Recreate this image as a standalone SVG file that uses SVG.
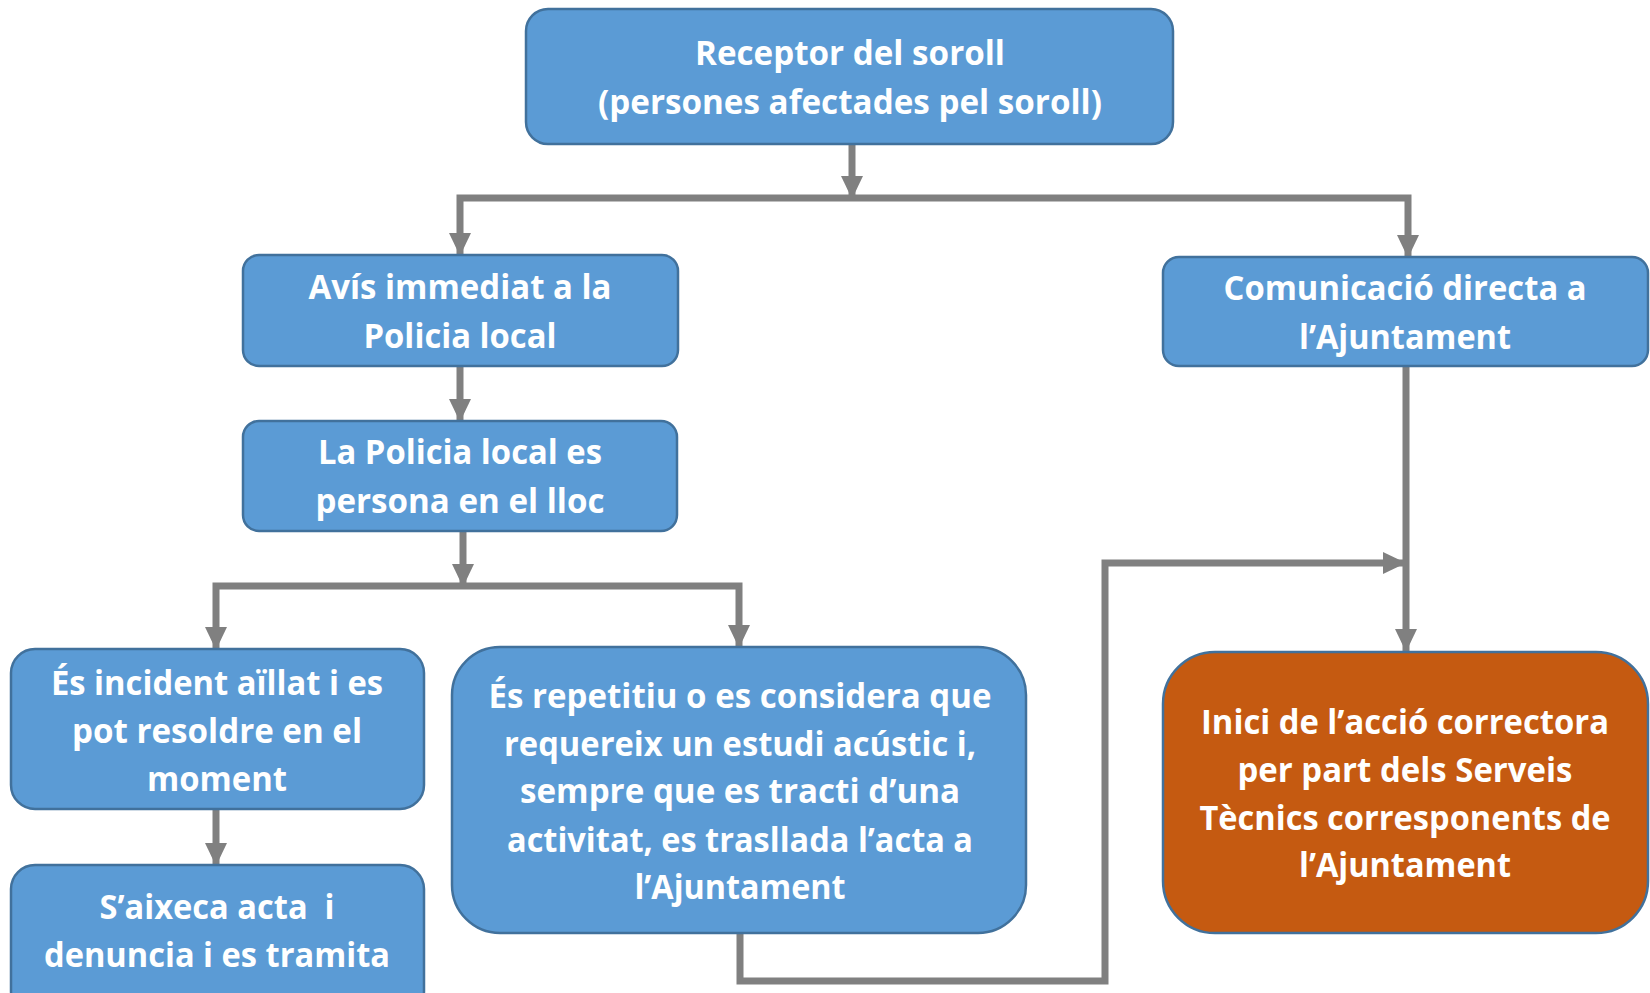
<svg xmlns="http://www.w3.org/2000/svg" width="1650" height="993" viewBox="0 0 1650 993">
<style>
.box{fill:#5B9BD5;stroke:#41719C;stroke-width:2.5}
.org{fill:#C55A11;stroke:#41719C;stroke-width:2.5}
.t{font-family:"Open Sans","Noto Sans","Liberation Sans",sans-serif;font-weight:700;font-size:34px;fill:#FFFFFF;text-anchor:middle}
.c{fill:none;stroke:#808080;stroke-width:7;stroke-linejoin:miter;stroke-linecap:butt}
</style>
<defs>
<marker id="ah" markerUnits="userSpaceOnUse" markerWidth="24" markerHeight="24" viewBox="0 0 24 24" refX="22" refY="12" orient="auto">
<path d="M0,1 L23,12 L0,23 Z" fill="#808080"/>
</marker>
</defs>
<rect width="1650" height="993" fill="#FFFFFF"/>
<g id="connectors">
<path class="c" d="M852,144 V198" marker-end="url(#ah)"/>
<path class="c" d="M852,198 H460 V255" marker-end="url(#ah)"/>
<path class="c" d="M852,198 H1408 V257" marker-end="url(#ah)"/>
<path class="c" d="M460,366 V421" marker-end="url(#ah)"/>
<path class="c" d="M463,531 V586" marker-end="url(#ah)"/>
<path class="c" d="M463,586 H216 V649" marker-end="url(#ah)"/>
<path class="c" d="M463,586 H739 V647" marker-end="url(#ah)"/>
<path class="c" d="M216,809 V865" marker-end="url(#ah)"/>
<path class="c" d="M740,933 V981 H1105 V563 H1405" marker-end="url(#ah)"/>
<path class="c" d="M1406,366 V651" marker-end="url(#ah)"/>
</g>
<g id="receptor">
<rect class="box" x="526" y="9" width="647" height="135" rx="22"/>
<text class="t" x="850" y="65" textLength="310" lengthAdjust="spacingAndGlyphs">Receptor del soroll</text>
<text class="t" x="850" y="114" textLength="504" lengthAdjust="spacingAndGlyphs">(persones afectades pel soroll)</text>
</g>
<g id="avis">
<rect class="box" x="243" y="255" width="435" height="111" rx="16"/>
<text class="t" x="460" y="299" textLength="303" lengthAdjust="spacingAndGlyphs">Avís immediat a la</text>
<text class="t" x="460" y="348" textLength="193" lengthAdjust="spacingAndGlyphs">Policia local</text>
</g>
<g id="policia">
<rect class="box" x="243" y="421" width="434" height="110" rx="16"/>
<text class="t" x="460" y="464" textLength="284" lengthAdjust="spacingAndGlyphs">La Policia local es</text>
<text class="t" x="460" y="513" textLength="289" lengthAdjust="spacingAndGlyphs">persona en el lloc</text>
</g>
<g id="comunicacio">
<rect class="box" x="1163" y="257" width="485" height="109" rx="16"/>
<text class="t" x="1405" y="300" textLength="363" lengthAdjust="spacingAndGlyphs">Comunicació directa a</text>
<text class="t" x="1405" y="349" textLength="212" lengthAdjust="spacingAndGlyphs">l’Ajuntament</text>
</g>
<g id="incident">
<rect class="box" x="11" y="649" width="413" height="160" rx="24"/>
<text class="t" x="217" y="695" textLength="332" lengthAdjust="spacingAndGlyphs">És incident aïllat i es</text>
<text class="t" x="217" y="743" textLength="290" lengthAdjust="spacingAndGlyphs">pot resoldre en el</text>
<text class="t" x="217" y="791" textLength="140" lengthAdjust="spacingAndGlyphs">moment</text>
</g>
<g id="acta">
<rect class="box" x="11" y="865" width="413" height="150" rx="24"/>
<text class="t" x="217" y="919" textLength="235" lengthAdjust="spacingAndGlyphs" xml:space="preserve">S’aixeca acta  i</text>
<text class="t" x="217" y="967" textLength="346" lengthAdjust="spacingAndGlyphs">denuncia i es tramita</text>
</g>
<g id="repetitiu">
<rect class="box" x="452" y="647" width="574" height="286" rx="48"/>
<text class="t" x="740" y="708" textLength="503" lengthAdjust="spacingAndGlyphs">És repetitiu o es considera que</text>
<text class="t" x="740" y="756" textLength="472" lengthAdjust="spacingAndGlyphs">requereix un estudi acústic i,</text>
<text class="t" x="740" y="803" textLength="440" lengthAdjust="spacingAndGlyphs">sempre que es tracti d’una</text>
<text class="t" x="740" y="852" textLength="466" lengthAdjust="spacingAndGlyphs">activitat, es trasllada l’acta a</text>
<text class="t" x="740" y="899" textLength="211" lengthAdjust="spacingAndGlyphs">l’Ajuntament</text>
</g>
<g id="inici">
<rect class="org" x="1163" y="652" width="485" height="281" rx="52"/>
<text class="t" x="1405" y="734" textLength="408" lengthAdjust="spacingAndGlyphs">Inici de l’acció correctora</text>
<text class="t" x="1405" y="782" textLength="335" lengthAdjust="spacingAndGlyphs">per part dels Serveis</text>
<text class="t" x="1405" y="830" textLength="411" lengthAdjust="spacingAndGlyphs">Tècnics corresponents de</text>
<text class="t" x="1405" y="877" textLength="212" lengthAdjust="spacingAndGlyphs">l’Ajuntament</text>
</g>
</svg>
